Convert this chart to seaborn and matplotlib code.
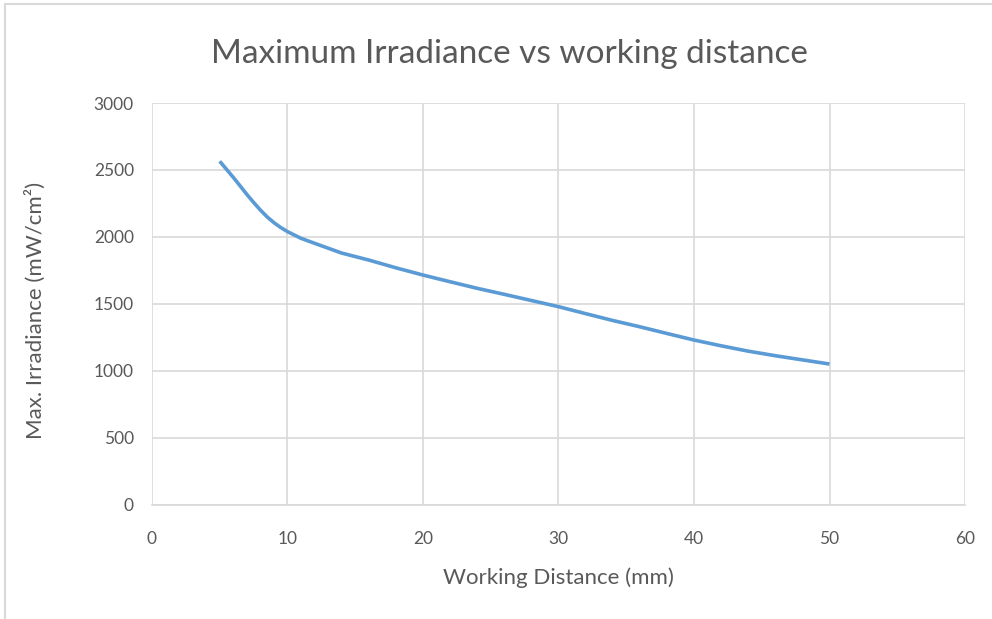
import matplotlib
matplotlib.use('Agg')
import pandas as pd
import matplotlib.pyplot as plt
import seaborn as sns
from matplotlib.lines import Line2D

# values
distancia = [5, 5.5, 6, 6.5, 7, 7.5, 8, 8.5, 9, 9.5, 10, 11, 12, 14, 16, 18,
             20, 22, 24, 26, 28, 30, 32, 34, 36, 38, 40, 42, 44, 46, 48, 50]
irradiancia = [2565, 2505, 2445, 2382, 2318, 2258, 2201, 2150, 2107, 2071,
               2040, 1990, 1953, 1880, 1828, 1770, 1716, 1666, 1617, 1572,
               1526, 1480, 1428, 1377, 1330, 1280, 1231, 1188, 1148, 1114,
               1083, 1052]
x_ticks = [0, 10, 20, 30, 40, 50, 60]
y_ticks = [0, 500, 1000, 1500, 2000, 2500, 3000]

df = pd.DataFrame({'distancia': distancia, 'irradiancia': irradiancia})

sns.set_style('white')
plt.rcParams['font.family'] = ['Lato', 'DejaVu Sans']

cinza = '#595959'
grade = '#D9D9D9'

fig = plt.figure(figsize=(9.92, 6.19), dpi=100)
ax = fig.add_axes([0.1532, 0.1842, 0.8196, 0.6494])

sns.lineplot(data=df, x='distancia', y='irradiancia', ax=ax,
             color='#5B9BD5', linewidth=2.6, solid_capstyle='butt',
             solid_joinstyle='round')

ax.set_xlim(0, 60)
ax.set_ylim(0, 3000)
ax.set_xticks(x_ticks)
ax.set_yticks(y_ticks)
ax.grid(True, color=grade, linewidth=1.2)
for s in ['top', 'right', 'left']:
    ax.spines[s].set_visible(False)
ax.spines['bottom'].set_color(grade)
ax.spines['bottom'].set_linewidth(1.2)
ax.tick_params(axis='both', length=0, labelsize=12.5, labelcolor=cinza)
ax.tick_params(axis='x', pad=19)
ax.tick_params(axis='y', pad=13)

ax.set_xlabel('Working Distance (mm)', fontsize=16, color=cinza)
ax.set_ylabel('Max. Irradiance (mW/cm²)', fontsize=16, color=cinza)
ax.xaxis.set_label_coords(0.5, -0.18)
ax.xaxis.label.set_va('center')
ax.yaxis.set_label_coords(-0.144, 0.483)
ax.yaxis.label.set_va('center')

fig.text(0.5135, 0.913, 'Maximum Irradiance vs working distance',
         ha='center', va='center', fontsize=24, color=cinza)

# moldura do gráfico (estilo Excel)
fig.add_artist(Line2D([5 / 992, 1], [1 - 4 / 619, 1 - 4 / 619],
                      transform=fig.transFigure, color=grade, linewidth=1.5))
fig.add_artist(Line2D([5 / 992, 5 / 992], [0, 1 - 4 / 619],
                      transform=fig.transFigure, color=grade, linewidth=1.5))

fig.savefig('out.png', dpi=100)
